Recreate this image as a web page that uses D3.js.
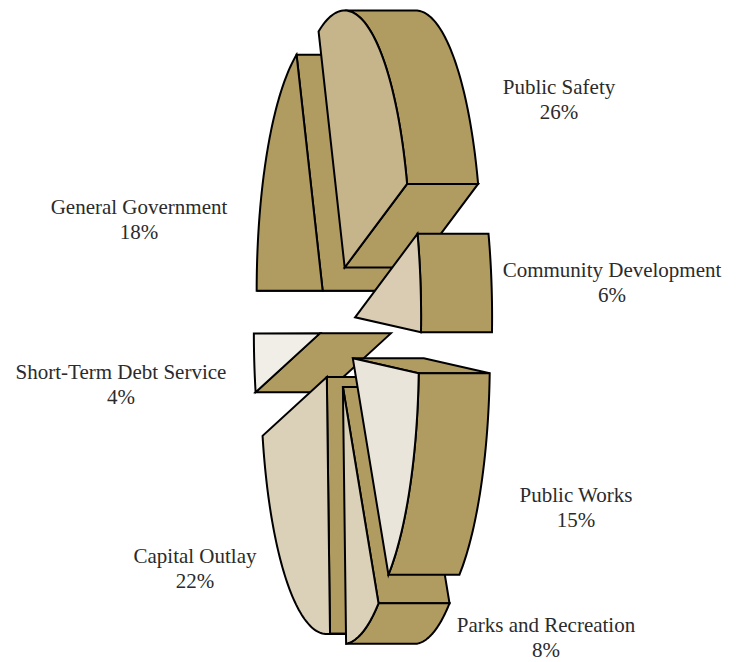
<!DOCTYPE html>
<html>
<head>
<meta charset="utf-8">
<script src="https://cdn.jsdelivr.net/npm/d3@7"></script>
<style>
  body { margin: 0; background: #fff; }
  text { font-family: "Liberation Serif", serif; font-size: 21px; fill: #2b2b2b; text-anchor: middle; }
</style>
</head>
<body>
<div id="chart-area"></div>
<script>
// clockwise starting at the Public Safety slice
var categories = ["Public Safety", "Community Development", "Public Works", "Parks and Recreation", "Capital Outlay", "Short-Term Debt Service", "General Government"];
var shares = [26.2, 6.2, 15, 8.3, 22.1, 3.67, 18.53];
var percentLabels = ["26%", "6%", "15%", "8%", "22%", "4%", "18%"];

var width = 745;
var height = 662;

// pie is seen almost edge on, so the ellipse is tall and the thickness runs to the right
var cx = 337.5, cy = 326;
var rx = 66, ry = 257;
var depth = 71;
var explodeX = 0.269, explodeY = 0.249;
var startDeg = -23.3;

var faceColor = ["#c6b48a", "#d9ccb2", "#eae5da", "#dbd0b8", "#dbd0b8", "#f1eee7", "#b09b60"];
var sideColor = "#b09b60";

// painter's order, back to front
var drawOrder = [6, 0, 1, 5, 4, 3, 2];

// label centre x, baseline of first line
var labelSpots = [[559, 94], [612, 277], [576, 502], [546, 632], [195, 563], [121, 379], [139, 214]];

var x = d3.scaleLinear().domain([-1, 1]).range([cx - rx, cx + rx]);
var y = d3.scaleLinear().domain([-1, 1]).range([cy - ry, cy + ry]);

var pie = d3.pie().sort(null)
  .startAngle(startDeg * Math.PI / 180)
  .endAngle((startDeg + 360) * Math.PI / 180);

var arcs = pie(shares);

var svg = d3.select("#chart-area")
  .append("svg")
  .attr("width", width)
  .attr("height", height);

var line = d3.line();

// point on the slice, r is 0 at the apex and 1 on the rim
function point(d, angle, r, shift) {
  var mid = (d.startAngle + d.endAngle) / 2;
  var u = r * Math.sin(angle) + explodeX * Math.sin(mid);
  var v = -r * Math.cos(angle) + -explodeY * Math.cos(mid);
  return [x(u) + (shift || 0), y(v)];
}

function rim(d, from, to) {
  var n = 60;
  return d3.range(n + 1).map(function(i) {
    return point(d, from + (to - from) * i / n, 1);
  });
}

function draw(g, pts, fill) {
  g.append("path")
    .attr("d", line(pts) + "Z")
    .attr("fill", fill)
    .attr("stroke", "#000")
    .attr("stroke-width", 2)
    .attr("stroke-linejoin", "miter");
}

drawOrder.forEach(function(i) {
  var d = arcs[i];
  var g = svg.append("g").attr("class", "slice");
  var apex = point(d, 0, 0);

  // radial walls, only the ones turned toward the thickness show
  if (Math.cos(d.startAngle) < 0) {
    var s = point(d, d.startAngle, 1);
    draw(g, [apex, s, [s[0] + depth, s[1]], [apex[0] + depth, apex[1]]], sideColor);
  }
  if (Math.cos(d.endAngle) > 0) {
    var e = point(d, d.endAngle, 1);
    draw(g, [apex, e, [e[0] + depth, e[1]], [apex[0] + depth, apex[1]]], sideColor);
  }

  // outer wall on the right half of the ellipse
  var from = Math.max(d.startAngle, 0);
  var to = Math.min(d.endAngle, Math.PI);
  if (to > from) {
    var outer = rim(d, from, to);
    var back = outer.slice().reverse().map(function(p) { return [p[0] + depth, p[1]]; });
    draw(g, outer.concat(back), sideColor);
  }

  // front face
  draw(g, [apex].concat(rim(d, d.startAngle, d.endAngle)), faceColor[i]);
});

var labels = svg.selectAll(".label")
  .data(categories)
  .enter()
  .append("g")
  .attr("class", "label");

labels.append("text")
  .attr("x", function(d, i) { return labelSpots[i][0]; })
  .attr("y", function(d, i) { return labelSpots[i][1]; })
  .text(function(d) { return d; });

labels.append("text")
  .attr("x", function(d, i) { return labelSpots[i][0]; })
  .attr("y", function(d, i) { return labelSpots[i][1] + 25; })
  .text(function(d, i) { return percentLabels[i]; });
</script>
</body>
</html>
